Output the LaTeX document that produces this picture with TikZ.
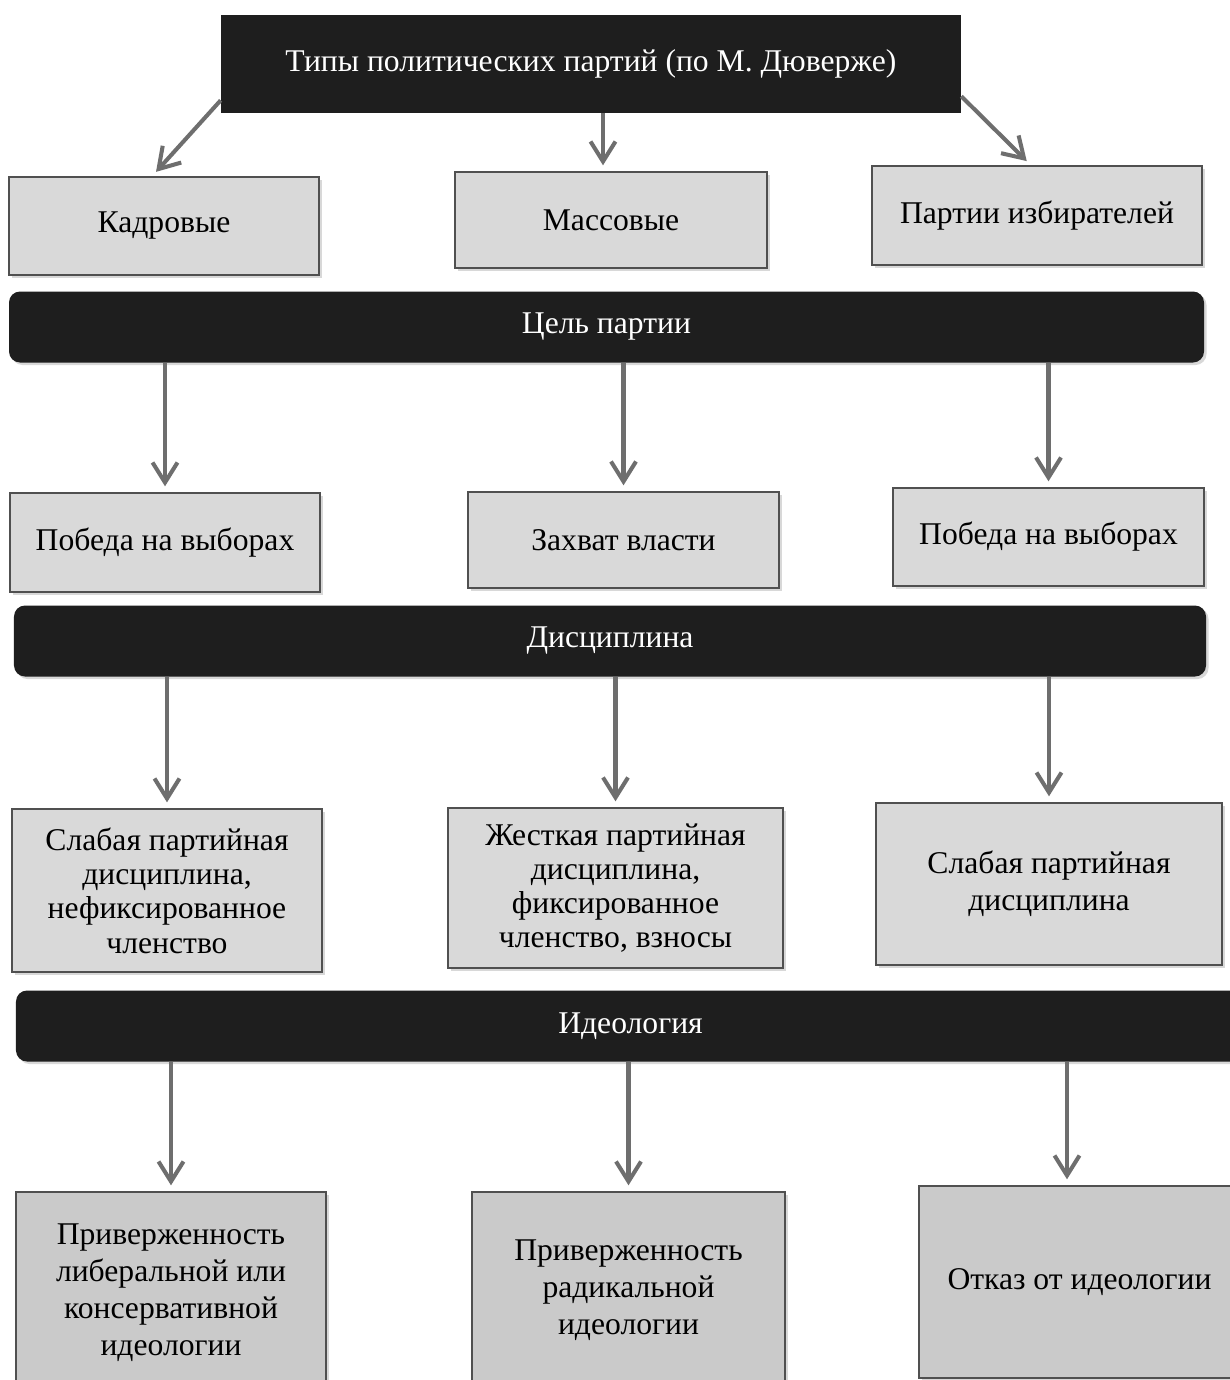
\documentclass[tikz,border=0pt]{standalone}
\usepackage{fontspec}
\setmainfont{Liberation Serif}
\usepackage{tikz}
\usetikzlibrary{arrows.meta,shadows}
\definecolor{barfill}{HTML}{1E1E1E}
\definecolor{boxfill}{HTML}{D9D9D9}
\definecolor{boxline}{HTML}{505050}
\definecolor{arrowgray}{HTML}{6E6E6E}
\tikzstyle{head} = [rectangle, fill=barfill, text=white, inner sep=0pt,
    font=\fontsize{18}{21}\selectfont]
\tikzstyle{band} = [rectangle, fill=barfill, text=white, rounded corners=0.22cm,
    inner sep=0pt, minimum height=1.42cm, font=\fontsize{18}{21}\selectfont,
    drop shadow={shadow xshift=0.05cm, shadow yshift=-0.05cm, fill=black!30}]
\tikzstyle{kind} = [rectangle, draw=boxline, line width=0.8pt, fill=boxfill,
    align=center, inner sep=0pt, font=\fontsize{18}{21}\selectfont,
    drop shadow={shadow xshift=0.06cm, shadow yshift=-0.06cm, fill=black!30}]
\tikzstyle{tight} = [font=\fontsize{18}{19.5}\selectfont]
\tikzstyle{link} = [draw=arrowgray, line width=2.3pt, shorten >=0.12cm,
    -{Straight Barb[length=0.4cm, width=0.5cm]}]

\begin{document}
\begin{tikzpicture}
    \useasboundingbox (0,0) rectangle (24.58,-27.6);
    \fill[white] (0,0) rectangle (24.58,-27.6);

    % Place nodes
    \node [head, minimum width=14.8cm, minimum height=1.96cm] (types) at (11.82,-1.28)
        {Типы политических партий (по М. Дюверже)};

    \node [kind, minimum width=6.2cm, minimum height=1.96cm] (cadre) at (3.28,-4.52) {Кадровые};
    \node [kind, minimum width=6.24cm, minimum height=1.92cm] (mass) at (12.22,-4.40) {Массовые};
    \node [kind, minimum width=6.6cm, minimum height=1.98cm] (voters) at (20.74,-4.31) {Партии избирателей};

    \node [band, minimum width=23.9cm] (goal) at (12.13,-6.54) {Цель партии};

    \node [kind, minimum width=6.2cm, minimum height=1.98cm] (aim1) at (3.30,-10.85) {Победа на выборах};
    \node [kind, minimum width=6.22cm, minimum height=1.92cm] (aim2) at (12.47,-10.80) {Захват власти};
    \node [kind, minimum width=6.22cm, minimum height=1.96cm] (aim3) at (20.97,-10.74) {Победа на выборах};

    \node [band, minimum width=23.84cm] (discipline) at (12.20,-12.82) {Дисциплина};

    \node [kind, tight, minimum width=6.2cm, minimum height=3.26cm] (rule1) at (3.34,-17.81)
        {Слабая партийная\\дисциплина,\\нефиксированное\\членство};
    \node [kind, tight, minimum width=6.7cm, minimum height=3.2cm] (rule2) at (12.31,-17.76)
        {Жесткая партийная\\дисциплина,\\фиксированное\\членство, взносы};
    \node [kind, minimum width=6.92cm, minimum height=3.24cm] (rule3) at (20.98,-17.68)
        {Слабая партийная\\дисциплина};

    \node [band, minimum width=24.58cm] (ideology) at (12.61,-20.52) {Идеология};

    \node [kind, fill=boxfill!93!black, minimum width=6.2cm, minimum height=4.04cm] (idea1) at (3.42,-25.86)
        {Приверженность\\либеральной или\\консервативной\\идеологии};
    \node [kind, fill=boxfill!93!black, minimum width=6.26cm, minimum height=3.92cm] (idea2) at (12.57,-25.80)
        {Приверженность\\радикальной\\идеологии};
    \node [kind, fill=boxfill!93!black, minimum width=6.42cm, minimum height=3.84cm] (idea3) at (21.59,-25.64)
        {Отказ от идеологии};

    % Draw edges
    % Types
    \draw [link] ([yshift=0.26cm]types.south west) -- ([xshift=-0.24cm]cadre.north);
    \draw [link] ([xshift=-0.16cm]mass.north |- types.south) -- ([xshift=-0.16cm]mass.north);
    \draw [link] ([yshift=0.34cm]types.south east) -- ([xshift=-0.12cm]voters.north);

    % Goal and discipline
    \foreach \n in {aim1,aim2,aim3}
        \draw [link] (\n.north |- goal.south) -- (\n.north);
    \foreach \n in {rule1,rule2,rule3}
        \draw [link] (\n.north |- discipline.south) -- (\n.north);

    % Ideology
    \draw [link] (idea1.north |- ideology.south) -- (idea1.north);
    \draw [link] (idea2.north |- ideology.south) -- (idea2.north);
    \draw [link] ([xshift=-0.25cm]idea3.north |- ideology.south) -- ([xshift=-0.25cm]idea3.north);

\end{tikzpicture}
\end{document}
